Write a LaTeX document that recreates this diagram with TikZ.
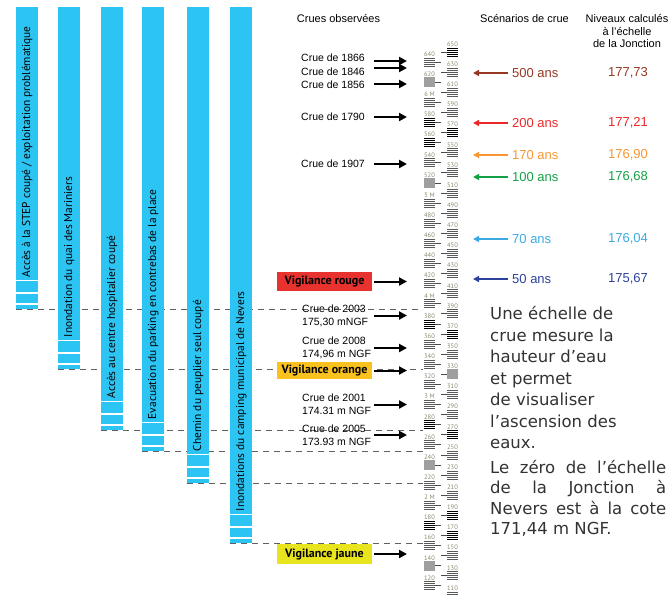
\documentclass[tikz,border=0pt]{standalone}
\usepackage{fontspec}
\setmainfont{Liberation Sans}
\newfontfamily\dinfont{PT Sans}
\newfontfamily\notefont{DejaVu Sans}
\usetikzlibrary{arrows.meta}

\definecolor{barcyan}{RGB}{44,196,242}
\definecolor{gaugelab}{RGB}{140,135,110}
\definecolor{vrouge}{RGB}{232,50,45}
\definecolor{vorange}{RGB}{250,194,30}
\definecolor{vjaune}{RGB}{232,228,30}
\definecolor{ans500}{RGB}{150,55,35}
\definecolor{ans200}{RGB}{235,40,40}
\definecolor{ans170}{RGB}{247,150,50}
\definecolor{ans100}{RGB}{20,160,70}
\definecolor{ans70}{RGB}{60,170,225}
\definecolor{ans50}{RGB}{45,65,155}
\definecolor{notegris}{RGB}{50,50,50}

\tikzset{
  bar/.style={fill=barcyan, draw=none, anchor=north west, minimum width=22pt, inner sep=0pt},
  bartext/.style={rotate=90, anchor=west, inner sep=0pt, font=\dinfont\fontsize{11.4}{13}\selectfont},
  niveau/.style={dash pattern=on 6pt off 5pt, line width=0.9pt, gray!75!black},
  crue/.style={->, line width=2pt},
  crue label/.style={anchor=west, inner sep=0pt, align=left, font=\fontsize{10.5}{13}\selectfont},
  entete/.style={inner sep=0pt, font=\fontsize{11}{12.5}\selectfont},
  vigil/.style={minimum width=95pt, minimum height=19pt, inner sep=0pt, font=\dinfont\bfseries\fontsize{12}{13}\selectfont},
  scenario/.style={inner sep=0pt, font=\fontsize{13}{15}\selectfont},
  fleche/.style={-{Triangle[length=6pt,width=6pt]}, line width=1.5pt, shorten <=4pt},
  gaugelabel/.style={inner sep=0pt, text=gaugelab, font=\dinfont\fontsize{6.5}{6.5}\selectfont},
  note/.style={anchor=base west, inner sep=0pt, text=notegris, font=\notefont\fontsize{16.5}{20}\selectfont}
}

% one block of hatch lines on the gauge
\newcommand{\echelon}[2]{%
  \pgfmathsetmacro{\gy}{44+(650-#1)*1.0074}%
  \pgfmathsetmacro{\gx}{mod(#1,20)==0 ? 424 : 447}%
  \foreach \k in {0,...,4}
    \draw[line width=0.9pt, #2] (\gx,\gy+4+2*\k) -- ++(11,0);
}

\begin{document}
\begin{tikzpicture}[x=1pt, y=-1pt, >={Triangle[length=8pt,width=8pt]}]
    \useasboundingbox (0,0) rectangle (668,595);
    \clip (0,0) rectangle (668,595);

    \coordinate (gauge) at (423,0);
    \coordinate (tail) at (374,0);
    \coordinate (tip) at (407,0);
    \coordinate (stip) at (473,0);

    % Bars of consequences
    \foreach \n/\xl/\bot/\txt in {
        1/16/309/{Accès à la STEP coupé / exploitation problématique},
        2/58/369/{Inondation du quai des Mariniers},
        3/101/430/{Accès au centre hospitalier coupé},
        4/142/451/{Evacuation du parking en contrebas de la place},
        5/187/483/{Chemin du peuplier seul coupé},
        6/230/543/{Inondations du camping municipal de Nevers}} {
        \node[bar, minimum height=\bot-7] (bar\n) at (\xl,7) {};
        \foreach \d in {29,16.5,5.5}
            \draw[white, line width=1.3pt] ([yshift=\d pt]bar\n.south west) -- ([yshift=\d pt]bar\n.south east);
        \node[bartext] (bt\n) at ([yshift=32pt]bar\n.south) {\txt};
        \draw[niveau] (bar\n.south west) -- (bar\n.south west -| gauge);
    }

    % Gauge
    \foreach \v in {110,120,...,650} {
        \pgfmathsetmacro{\gy}{44+(650-\v)*1.0074}
        \pgfmathsetmacro{\gx}{mod(\v,20)==0 ? 424 : 447}
        \pgfmathtruncatemacro{\m}{\v/100}
        \pgfmathtruncatemacro{\rond}{mod(\v,100)==0}
        \ifnum\rond=1 \def\gl{\m~M}\else\def\gl{\v}\fi
        \node[gaugelabel] (lab\v) at (\gx+5.5,\gy) {\gl};
        \draw[line width=0.9pt, gray!60!black] (\gx+5.5,\gy+8) -- (441,\gy+8);
    }
    \foreach \v in {110,120,...,650} \echelon{\v}{gray!70!black};
    \foreach \v in {650,580,570,560,380,370,280,270,190,180,170} \echelon{\v}{black};
    \foreach \v in {620,520,330,240,140} \echelon{\v}{gray!75, line width=2pt};

    % Observed floods
    \node[entete] (hcrues) at (338.5,19) {Crues observées};
    \foreach \yr/\y/\dy in {1866/58/-3, 1846/72/4, 1856/85/1, 1790/117/0, 1907/164/0} {
        \node[crue label] (c\yr) at (301,\y) {Crue de \yr};
        \draw[crue] ([yshift=\dy pt]c\yr.east -| tail) -- ([yshift=\dy pt]c\yr.east -| tip);
    }
    \foreach \yr/\y/\cote in {2003/315.5/{175,30 mNGF}, 2008/348/{174,96 m NGF},
                              2001/404.5/{174.31 m NGF}, 2005/435/{173.93 m NGF}} {
        \node[crue label] (c\yr) at (302,\y) {Crue de \yr\\\cote};
        \draw[crue] (c\yr.east -| tail) -- (c\yr.east -| tip);
    }

    % Vigilance levels
    \node[vigil, fill=vrouge] (vrouge) at (324.5,281.5) {Vigilance rouge};
    \node[vigil, fill=vorange, minimum height=17pt] (vorange) at (324.5,370.5) {Vigilance orange};
    \node[vigil, fill=vjaune, minimum height=20pt] (vjaune) at (324.5,554) {Vigilance jaune};
    \foreach \v in {vrouge,vorange,vjaune}
        \draw[crue] (\v.east -| tail) -- (\v.east -| tip);

    % Scenarios
    \node[entete] (hscen) at (524.5,19) {Scénarios de crue};
    \node[entete, align=center, anchor=north] (hniv) at (627,14.5) {Niveaux calculés\\à l'échelle\\de la Jonction};
    \foreach \ans/\y/\niv in {500/73/{177,73}, 200/123/{177,21}, 170/155/{176,90},
                              100/177/{176,68}, 70/239/{176,04}, 50/279/{175,67}} {
        \node[scenario, text=ans\ans, anchor=west] (s\ans) at (512,\y) {\ans{} ans};
        \node[scenario, text=ans\ans] (n\ans) at (628,\y) {\niv};
        \draw[fleche, ans\ans] (s\ans.west) -- (s\ans.west -| stip);
    }

    % Note
    \foreach \t [count=\i from 0] in {Une échelle de, crue mesure la, hauteur d’eau, et permet,
                                      de visualiser, l’ascension des, eaux.}
        \node[note] (note\i) at (490,319.5+21.5*\i) {\t};
    \node[note] (zero1) at (490,473.5) {\makebox[176pt][s]{Le zéro de l’échelle}};
    \node[note] (zero2) at (490,493.8) {\makebox[176pt][s]{de la Jonction à}};
    \node[note] (zero3) at (490,514) {\makebox[176pt][s]{Nevers est à la cote}};
    \node[note] (zero4) at (490,534.5) {171,44 m NGF.};
\end{tikzpicture}
\end{document}
